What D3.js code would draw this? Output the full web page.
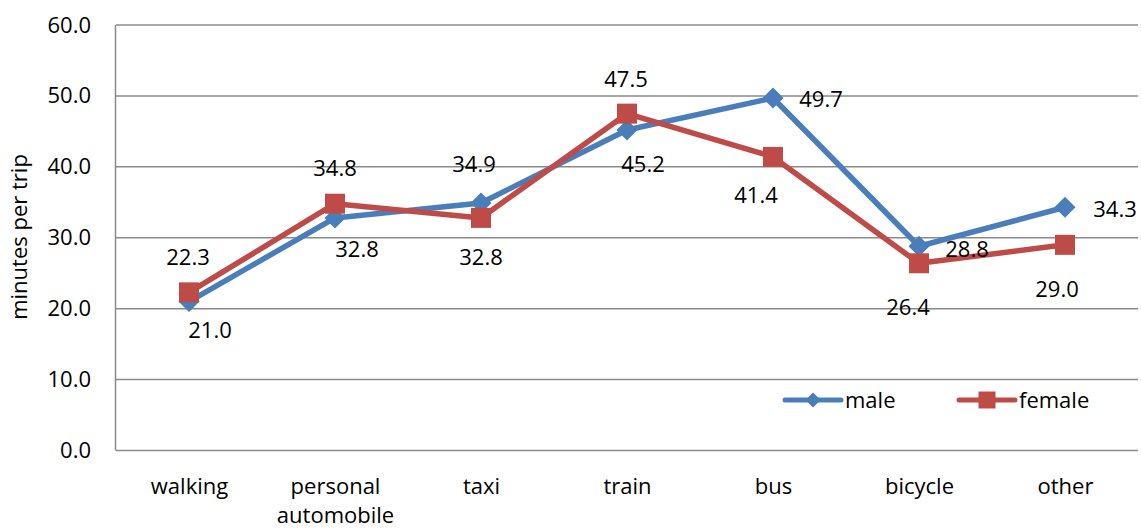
<!DOCTYPE html>
<html>
<head>
<meta charset="utf-8">
<script src="https://cdn.jsdelivr.net/npm/d3@7"></script>
<style>
  html, body { margin: 0; padding: 0; background: #fff; }
  svg { display: block; }
  text { font-family: "Open Sans", "Noto Sans", sans-serif; fill: #000; }
</style>
</head>
<body>
<svg id="chart" width="1141" height="529"></svg>
<script>
// Travel modes and average minutes per trip by sex
const categories = ["walking", "personal automobile", "taxi", "train", "bus", "bicycle", "other"];
const maleValues = [21.0, 32.8, 34.9, 45.2, 49.7, 28.8, 34.3];
const femaleValues = [22.3, 34.8, 32.8, 47.5, 41.4, 26.4, 29.0];
const yTicks = [0, 10, 20, 30, 40, 50, 60];

// Where each value label sits relative to its marker (dx, dy of the text baseline centre)
const maleLabelOffsets = [[21, 36], [22, 39], [-7, -31], [16, 42], [48, 9], [48, 11], [50, 10]];
const femaleLabelOffsets = [[-1, -27], [0, -28], [0, 47], [-1, -27], [-17, 46], [-11, 52], [-8, 52]];

const series = [
  { name: "male", values: maleValues, offsets: maleLabelOffsets, color: "#4a7ebb", marker: "diamond" },
  { name: "female", values: femaleValues, offsets: femaleLabelOffsets, color: "#be4b48", marker: "square" }
];

const svg = d3.select("#chart");
const plot = { left: 116, right: 1138, top: 25, bottom: 450.5 };

const x = d3.scalePoint().domain(categories).range([plot.left, plot.right]).padding(0.5);
const y = d3.scaleLinear().domain([0, 60]).range([plot.bottom, plot.top]);

const gridColor = "#8a8a8a";

// Horizontal gridlines
svg.append("g")
  .selectAll("line")
  .data(yTicks)
  .join("line")
  .attr("x1", plot.left).attr("x2", plot.right)
  .attr("y1", d => y(d)).attr("y2", d => y(d))
  .attr("stroke", gridColor).attr("stroke-width", 1.5);

// Vertical axis line
svg.append("line")
  .attr("x1", plot.left - 0.5).attr("x2", plot.left - 0.5)
  .attr("y1", plot.top).attr("y2", plot.bottom)
  .attr("stroke", gridColor).attr("stroke-width", 1.5);

// Y axis tick labels
const yAxis = d3.axisLeft(y).tickValues(yTicks).tickFormat(d3.format(".1f")).tickSize(0).tickPadding(25);
const yAxisG = svg.append("g").attr("transform", `translate(${plot.left},0)`).call(yAxis);
yAxisG.select(".domain").remove();
yAxisG.selectAll("text")
  .style("font-family", '"Open Sans", "Noto Sans", sans-serif')
  .style("font-size", "22px").attr("fill", "#000");

// X axis category labels (wrapped onto two lines where needed)
const xAxis = d3.axisBottom(x).tickSize(0).tickPadding(0);
const xAxisG = svg.append("g").attr("transform", `translate(0,${plot.bottom})`).call(xAxis);
xAxisG.select(".domain").remove();
xAxisG.selectAll("text").each(function (d) {
  const t = d3.select(this);
  t.text(null).attr("y", 0).attr("dy", null)
    .style("font-family", '"Open Sans", "Noto Sans", sans-serif')
    .style("font-size", "22px").attr("fill", "#000");
  d.split(" ").forEach((w, i) => {
    t.append("tspan").attr("x", 0).attr("y", 43 + i * 29).text(w);
  });
});

// Y axis title
svg.append("text")
  .attr("transform", "translate(27,237) rotate(-90)")
  .attr("text-anchor", "middle")
  .style("font-size", "22px")
  .text("minutes per trip");

// Marker shapes
function markerPath(type, size) {
  const h = size / 2;
  if (type === "diamond") return `M0,${-h}L${h},0L0,${h}L${-h},0Z`;
  return `M${-h},${-h}H${h}V${h}H${-h}Z`;
}

const line = d3.line().x((d, i) => x(categories[i])).y(d => y(d));

// Lines and markers
series.forEach(s => {
  const g = svg.append("g");
  g.append("path")
    .datum(s.values)
    .attr("d", line)
    .attr("fill", "none")
    .attr("stroke", s.color)
    .attr("stroke-width", 5.5)
    .attr("stroke-linejoin", "round");
  g.selectAll("path.marker")
    .data(s.values)
    .join("path")
    .attr("class", "marker")
    .attr("transform", (d, i) => `translate(${x(categories[i])},${y(d)})`)
    .attr("d", markerPath(s.marker, s.marker === "diamond" ? 21 : 20))
    .attr("fill", s.color);
});

// Value labels
series.forEach(s => {
  svg.append("g")
    .selectAll("text")
    .data(s.values)
    .join("text")
    .attr("x", (d, i) => x(categories[i]) + s.offsets[i][0])
    .attr("y", (d, i) => y(d) + s.offsets[i][1])
    .attr("text-anchor", "middle")
    .style("font-size", "22px")
    .text(d => d.toFixed(1));
});

// Legend
const legendItems = [
  { s: series[0], x0: 785 },
  { s: series[1], x0: 959 }
];
const legendY = 400;
legendItems.forEach(({ s, x0 }) => {
  const g = svg.append("g").attr("transform", `translate(${x0},${legendY})`);
  g.append("line")
    .attr("x1", 0).attr("x2", 56).attr("y1", 0).attr("y2", 0)
    .attr("stroke", s.color).attr("stroke-width", 5).attr("stroke-linecap", "round");
  g.append("path")
    .attr("transform", "translate(28,0)")
    .attr("d", markerPath(s.marker, s.marker === "diamond" ? 15 : 17))
    .attr("fill", s.color);
  g.append("text")
    .attr("x", 60).attr("y", 8)
    .style("font-size", "22px")
    .text(s.name);
});
</script>
</body>
</html>
